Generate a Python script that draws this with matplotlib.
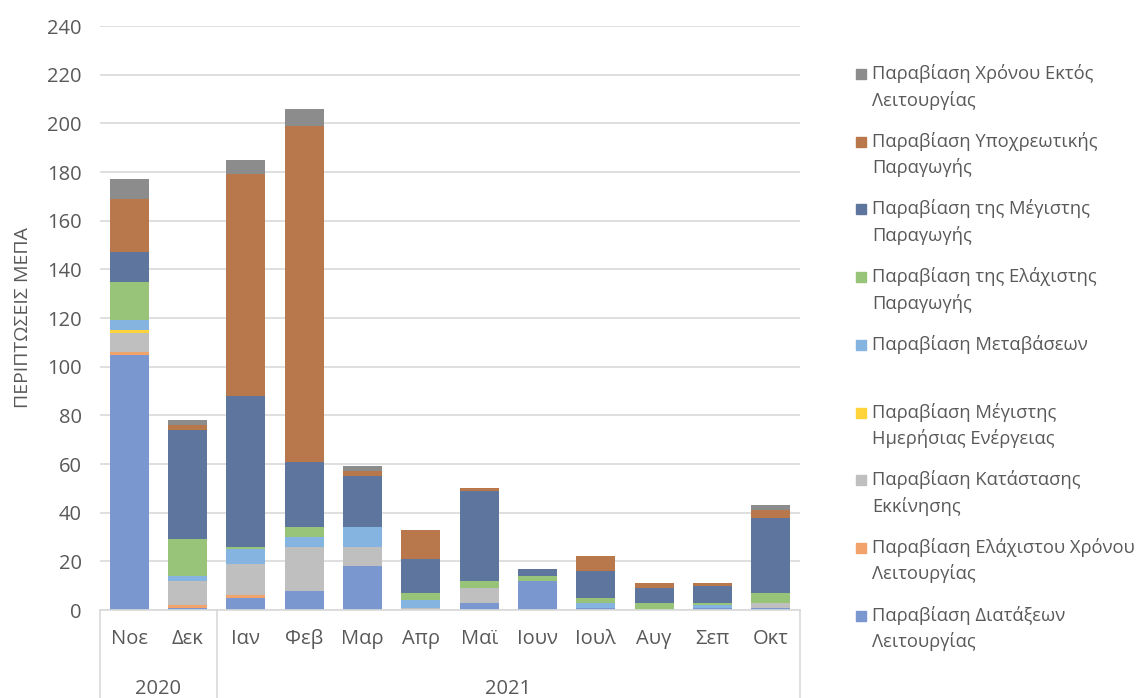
import matplotlib
matplotlib.use("Agg")
import matplotlib.pyplot as plt
import matplotlib.transforms as mtransforms
from matplotlib.patches import Rectangle
import numpy as np

plt.rcParams['font.family'] = ['Open Sans', 'DejaVu Sans']

months = ["Νοε", "Δεκ", "Ιαν", "Φεβ", "Μαρ", "Απρ", "Μαϊ", "Ιουν", "Ιουλ", "Αυγ", "Σεπ", "Οκτ"]
years = ["2020", "2021"]
year_span = [2, 10]  # number of months in each year group

# series (bottom to top)
diataxeon      = [105, 1, 5, 8, 18, 0, 3, 12, 1, 0, 1, 1]
elax_xronou    = [1, 1, 1, 0, 0, 0, 0, 0, 0, 0, 0, 0]
katastasis     = [8, 10, 13, 18, 8, 1, 6, 0, 0, 0, 0, 2]
meg_imerisias  = [1, 0, 0, 0, 0, 0, 0, 0, 0, 0, 0, 0]
metavaseon     = [4, 2, 6, 4, 8, 3, 0, 0, 2, 0, 1, 0]
elax_paragogis = [16, 15, 1, 4, 0, 3, 3, 2, 2, 3, 1, 4]
meg_paragogis  = [12, 45, 62, 27, 21, 14, 37, 3, 11, 6, 7, 31]
ypoxreotikis   = [22, 2, 91, 138, 2, 12, 1, 0, 6, 2, 1, 3]
ektos          = [8, 2, 6, 7, 2, 0, 0, 0, 0, 0, 0, 2]

series = [
    ("Παραβίαση Διατάξεων\nΛειτουργίας", diataxeon, "#7A98CF"),
    ("Παραβίαση Ελάχιστου Χρόνου\nΛειτουργίας", elax_xronou, "#F2A36B"),
    ("Παραβίαση Κατάστασης\nΕκκίνησης", katastasis, "#BFBFBF"),
    ("Παραβίαση Μέγιστης\nΗμερήσιας Ενέργειας", meg_imerisias, "#FFD43B"),
    ("Παραβίαση Μεταβάσεων", metavaseon, "#85B4E0"),
    ("Παραβίαση της Ελάχιστης\nΠαραγωγής", elax_paragogis, "#98C47A"),
    ("Παραβίαση της Μέγιστης\nΠαραγωγής", meg_paragogis, "#5E769E"),
    ("Παραβίαση Υποχρεωτικής\nΠαραγωγής", ypoxreotikis, "#B8784B"),
    ("Παραβίαση Χρόνου Εκτός\nΛειτουργίας", ektos, "#8C8C8C"),
]

W, H = 1137, 698
fig = plt.figure(figsize=(W / 100, H / 100), dpi=100)
ax = fig.add_axes([100 / W, (H - 610) / H, 700 / W, 584 / H])

x = np.arange(len(months))
bottom = np.zeros(len(months))
for label, vals, color in series:
    v = np.array(vals, dtype=float)
    ax.bar(x, v, bottom=bottom, width=0.67, color=color, zorder=2, linewidth=0)
    bottom += v

ax.set_xlim(-0.5, len(months) - 0.5)
ax.set_ylim(0, 240)
ax.set_yticks(np.arange(0, 241, 20))
ax.yaxis.grid(True, color="#D9D9D9", linewidth=1.2, zorder=0)
ax.set_axisbelow(True)
for s in ["top", "right", "left"]:
    ax.spines[s].set_visible(False)
ax.spines["bottom"].set_color("#D9D9D9")
ax.spines["bottom"].set_linewidth(1.2)

txtcol = "#595959"
fs = 14.5
ax.tick_params(axis="y", length=0, pad=13, labelsize=fs, labelcolor=txtcol)
ax.set_xticks(x)
ax.set_xticklabels(months)
ax.tick_params(axis="x", length=0, pad=14, labelsize=fs, labelcolor=txtcol)

ax.set_ylabel("ΠΕΡΙΠΤΩΣΕΙΣ ΜΕΠΑ", fontsize=14, color=txtcol)
ax.yaxis.set_label_coords(-68 / 700, 0.5)

# year group labels & separators
trans = mtransforms.blended_transform_factory(ax.transData, ax.transAxes)
ybot = -88 / 584
start = -0.5
edges = [start]
for n in year_span:
    edges.append(edges[-1] + n)
for e in edges:
    ax.plot([e, e], [0, ybot], transform=trans, color="#D9D9D9", linewidth=1.2, clip_on=False)
for i, yr in enumerate(years):
    cx = (edges[i] + edges[i + 1]) / 2
    ax.text(cx, -79 / 584, yr, transform=trans, ha="center", va="center",
            fontsize=fs, color=txtcol)

# legend (top entry = last series)
lx_sq = 856 / W
lx_tx = 872 / W
y0 = 74
step = 67.7
for i, (label, vals, color) in enumerate(reversed(series)):
    yc = y0 + i * step
    fig.patches.append(Rectangle((lx_sq, 1 - (yc + 5) / H), 10 / W, 10 / H,
                                 transform=fig.transFigure, color=color, figure=fig))
    fig.text(lx_tx, 1 - (yc - 10) / H, label, ha="left", va="top", fontsize=13.2,
             color=txtcol, linespacing=1.5)

fig.savefig("out.png", dpi=100, facecolor="white")
